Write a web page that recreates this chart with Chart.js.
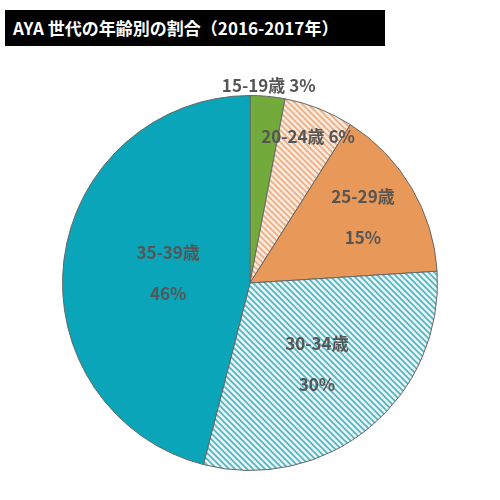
<!DOCTYPE html>
<html><head><meta charset="utf-8">
<script src="https://cdn.jsdelivr.net/npm/chart.js@4"></script>
<style>
body{margin:0;background:#fff;width:500px;height:500px;position:relative;overflow:hidden;font-family:"Noto Sans CJK JP",sans-serif}
#title{position:absolute;left:5px;top:10px;width:380px;height:36px;background:#000;color:#fff;font-weight:bold;font-size:17px;line-height:36px;padding-left:8px;box-sizing:border-box;white-space:nowrap}
#c{position:absolute;left:0;top:0}
</style></head><body>
<canvas id="c" width="500" height="500"></canvas>
<div id="title">AYA 世代の年齢別の割合（2016-2017年）</div>
<script>
const categories=["15-19歳","20-24歳","25-29歳","30-34歳","35-39歳"];
const values=[3,6,15,30,46];
const percentLabels=["3%","6%","15%","30%","46%"];

function hatch(bg,fg){
  const p=document.createElement('canvas');p.width=6;p.height=6;
  const g=p.getContext('2d');g.fillStyle=bg;g.fillRect(0,0,6,6);
  g.strokeStyle=fg;g.lineWidth=1.6;
  g.beginPath();g.moveTo(-1,-1);g.lineTo(7,7);g.moveTo(-1,5);g.lineTo(1,7);g.moveTo(5,-1);g.lineTo(7,1);g.stroke();
  return g.createPattern(p,'repeat');
}
const ctx=document.getElementById('c').getContext('2d');
const colors=["#72ab3c",hatch('#fbeadc','#eeac80'),"#e8995a",hatch('#e6f6f8','#4fb4c4'),"#0aa5b8"];
const labelR=[1.06,0.84,0.70,0.56,0.44];
const twoLine=[false,false,true,true,true];
const labelPlugin={id:'lbl',afterDatasetsDraw(chart){
  const c=chart.ctx;const meta=chart.getDatasetMeta(0);
  c.save();c.fillStyle='#555';c.font='bold 17px "Noto Sans CJK JP", sans-serif';c.textAlign='center';c.textBaseline='middle';
  meta.data.forEach((a,i)=>{
    const mid=(a.startAngle+a.endAngle)/2;const r=a.outerRadius*labelR[i];
    const x=a.x+Math.cos(mid)*r,y=a.y+Math.sin(mid)*r;
    if(twoLine[i]){c.fillText(categories[i],x,y-20);c.fillText(percentLabels[i],x,y+21);}
    else c.fillText(categories[i]+' '+percentLabels[i],x,y);
  });c.restore();}};
new Chart(ctx,{type:'pie',data:{labels:categories,datasets:[{data:values,backgroundColor:colors,borderColor:'#666',borderWidth:1}]},
options:{responsive:false,animation:false,layout:{padding:{top:95,bottom:29,left:62,right:62}},
plugins:{legend:{display:false},tooltip:{enabled:false}}},plugins:[labelPlugin]});
</script></body></html>
